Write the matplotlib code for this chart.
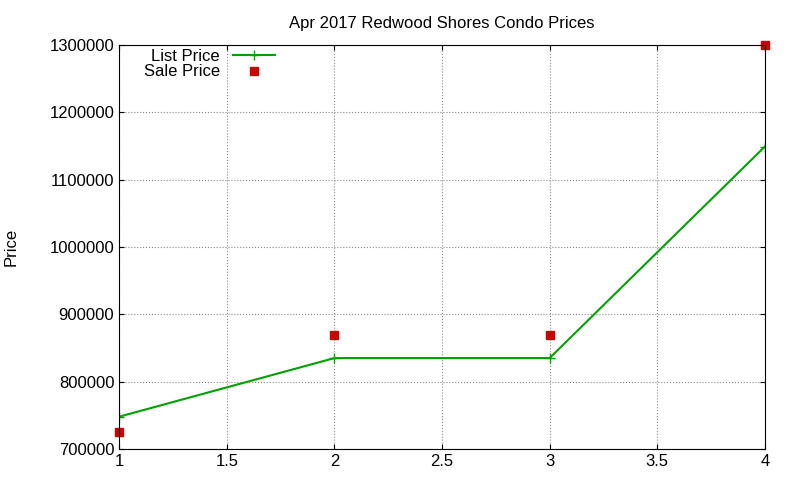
import matplotlib.pyplot as plt
from matplotlib.ticker import FormatStrFormatter

plt.rcParams['font.family'] = ['Liberation Sans', 'DejaVu Sans']

x = [1, 2, 3, 4]
list_price = [748000, 835000, 835000, 1149000]
sale_price = [725000, 869000, 869000, 1300000]

fig = plt.figure(figsize=(8, 4.8), dpi=100)
ax = fig.add_axes([0.149, 0.0646, 0.807, 0.8417])

ax.plot(x, list_price, color='#00a000', marker='+', markersize=7, lw=1.5, label='List Price')
ax.plot(x, sale_price, color='#cc0000', marker='s', markersize=6, ls='none', label='Sale Price',
        clip_on=False)

ax.set_xlim(1, 4)
ax.set_ylim(700000, 1300000)
ax.set_xticks([1, 1.5, 2, 2.5, 3, 3.5, 4])
ax.set_xticklabels(['1', '1.5', '2', '2.5', '3', '3.5', '4'])
ax.set_yticks(range(700000, 1300001, 100000))
ax.yaxis.set_major_formatter(FormatStrFormatter('%d'))
ax.grid(True, ls=':', color='#888888', lw=0.8)
ax.tick_params(direction='in', top=True, right=True, labelsize=12)
ax.set_ylabel('Price', fontsize=12, labelpad=22)
ax.set_title('Apr 2017 Redwood Shores Condo Prices', fontsize=12, pad=12)

leg = ax.legend(loc='upper left', bbox_to_anchor=(0.02, 1.02), frameon=False, markerfirst=False,
                fontsize=12, handlelength=2.5, labelspacing=0.05, borderaxespad=0.3)
for t in leg.get_texts():
    t.set_ha('right')

fig.savefig('out.png')
